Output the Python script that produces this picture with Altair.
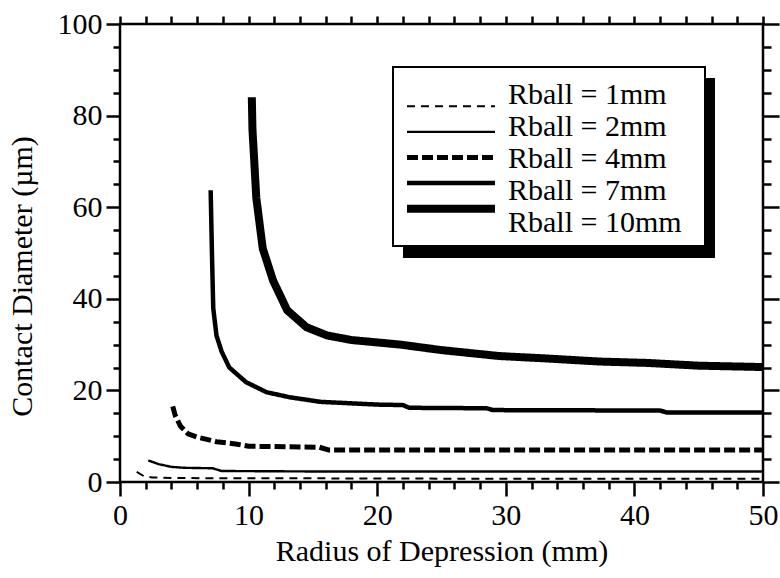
import altair as alt
import pandas as pd

# ---- data ----
series = ["Rball = 1mm", "Rball = 2mm", "Rball = 4mm", "Rball = 7mm", "Rball = 10mm"]

r1_x = [1.3, 1.9, 2.5, 4.0, 8.0, 15.0, 30.0, 50.0]
r1_y = [2.2, 1.2, 1.0, 0.9, 0.8, 0.8, 0.7, 0.7]

r2_x = [2.2, 3.0, 4.0, 5.0, 7.2, 7.9, 15.0, 30.0, 50.0]
r2_y = [4.7, 3.9, 3.3, 3.1, 3.0, 2.4, 2.3, 2.3, 2.3]

r4_x = [4.1, 4.3, 4.7, 5.3, 6.0, 7.5, 9.0, 10.0, 15.5, 16.2, 30.0, 50.0]
r4_y = [16.5, 14.5, 12.2, 10.5, 9.8, 8.8, 8.3, 7.8, 7.6, 7.0, 7.0, 7.0]

r7_x = [7.05, 7.15, 7.25, 7.5, 7.9, 8.5, 9.8, 11.4, 13.2, 15.6, 20.0, 22.0, 22.5, 28.5, 29.0, 42.0, 42.5, 50.0]
r7_y = [63.7, 50.0, 38.0, 32.0, 28.5, 25.0, 21.8, 19.6, 18.5, 17.5, 16.9, 16.8, 16.2, 16.1, 15.7, 15.6, 15.2, 15.2]

r10_x = [10.25, 10.3, 10.6, 11.1, 11.9, 13.0, 14.5, 16.1, 18.0, 21.8, 25.0, 29.5, 33.0, 37.3, 41.0, 45.0, 50.0]
r10_y = [84.0, 77.0, 62.0, 51.0, 44.0, 37.5, 33.8, 32.0, 31.0, 30.0, 28.8, 27.5, 27.0, 26.3, 26.0, 25.4, 25.1]

x_major = [0, 10, 20, 30, 40, 50]
x_minor = [2, 4, 6, 8, 12, 14, 16, 18, 22, 24, 26, 28, 32, 34, 36, 38, 42, 44, 46, 48]
y_major = [0, 20, 40, 60, 80, 100]
y_minor = [5, 10, 15, 25, 30, 35, 45, 50, 55, 65, 70, 75, 85, 90, 95]

dash_range = [[8, 6], [1, 0], [11, 4], [1, 0], [1, 0]]
width_range = [2, 2.4, 5, 4.5, 8]

rows = []
for name, xs, ys in zip(series, [r1_x, r2_x, r4_x, r7_x, r10_x], [r1_y, r2_y, r4_y, r7_y, r10_y]):
    for i, (a, b) in enumerate(zip(xs, ys)):
        rows.append({"x": a, "y": b, "series": name, "i": i})
df = pd.DataFrame(rows)

FONT = "Liberation Serif"
xs = alt.Scale(domain=[0, 50], nice=False, zero=False)
ys_ = alt.Scale(domain=[0, 100], nice=False, zero=False)

dash_enc = alt.StrokeDash("series:N", scale=alt.Scale(domain=series, range=dash_range), legend=None)
width_enc = alt.StrokeWidth("series:O", scale=alt.Scale(type="ordinal", domain=series, range=width_range), legend=None)

common_axis = dict(domain=False, grid=False, tickColor="black", tickWidth=2.5)

lines = alt.Chart(df).mark_line(color="black", strokeJoin="round").encode(
    x=alt.X("x:Q", scale=xs, axis=alt.Axis(values=x_major, tickSize=14, labels=True,
                                            labelFont=FONT, labelFontSize=30, labelColor="black",
                                            labelPadding=4, labelFlush=False,
                                            title="Radius of Depression (mm)", titleFont=FONT,
                                            titleFontSize=30, titleFontWeight="normal", titleColor="black",
                                            titlePadding=6, **common_axis)),
    y=alt.Y("y:Q", scale=ys_, axis=alt.Axis(values=y_major, tickSize=14, labels=True,
                                             labelFont=FONT, labelFontSize=30, labelColor="black",
                                             labelPadding=4, labelFlush=False,
                                             title="Contact Diameter (µm)", titleFont=FONT,
                                             titleFontSize=30, titleFontWeight="normal", titleColor="black",
                                             titleAngle=-90, titleAlign="center", titleBaseline="middle",
                                             titleX=-98, titleY=252, **common_axis)),
    strokeDash=dash_enc,
    strokeWidth=width_enc,
    order="i:Q",
)


def tick_layer(xorient, yorient, xvals, yvals, xsize, ysize):
    return alt.Chart(df).mark_point(opacity=0).encode(
        x=alt.X("x:Q", scale=xs, axis=alt.Axis(orient=xorient, values=xvals, tickSize=xsize,
                                                labels=False, title=None, **common_axis)),
        y=alt.Y("y:Q", scale=ys_, axis=alt.Axis(orient=yorient, values=yvals, tickSize=ysize,
                                                 labels=False, title=None, **common_axis)),
    )


minor_bl = tick_layer("bottom", "left", x_minor, y_minor, 7, 7)
major_tr = tick_layer("top", "right", x_major, y_major, 8, 16)
minor_tr = tick_layer("top", "right", x_minor, y_minor, 8, 8)

one = pd.DataFrame({"k": [0]})
leg_df = pd.DataFrame({"series": series})

shadow = alt.Chart(one).mark_rect(color="black").encode(
    x=alt.value(283), x2=alt.value(595), y=alt.value(54), y2=alt.value(234))
box = alt.Chart(one).mark_rect(fill="white", stroke="black", strokeWidth=2).encode(
    x=alt.value(273), x2=alt.value(585), y=alt.value(43), y2=alt.value(222))

leg_y = alt.Y("series:N", scale=alt.Scale(domain=series, range=[69.5, 197.5], padding=0), axis=None)
leg_lines = alt.Chart(leg_df).mark_rule(color="black").encode(
    x=alt.value(287), x2=alt.value(375), y=leg_y, strokeDash=dash_enc, strokeWidth=width_enc)
leg_text = alt.Chart(leg_df).mark_text(align="left", baseline="middle", font=FONT, fontSize=30,
                                       color="black", dy=1).encode(
    x=alt.value(388), y=leg_y, text="series:N")

chart = alt.layer(lines, minor_bl, major_tr, minor_tr, shadow, box, leg_lines, leg_text).resolve_scale(
    y="independent"
).resolve_axis(x="independent", y="independent").properties(
    width=643, height=458,
    autosize=alt.AutoSizeParams(type="none"),
    padding={"left": 120, "top": 24, "right": 17, "bottom": 96},
    background="white",
).configure_view(stroke="black", strokeWidth=2.5)

chart.save("out.html", embed_options={"renderer": "svg", "actions": False})
